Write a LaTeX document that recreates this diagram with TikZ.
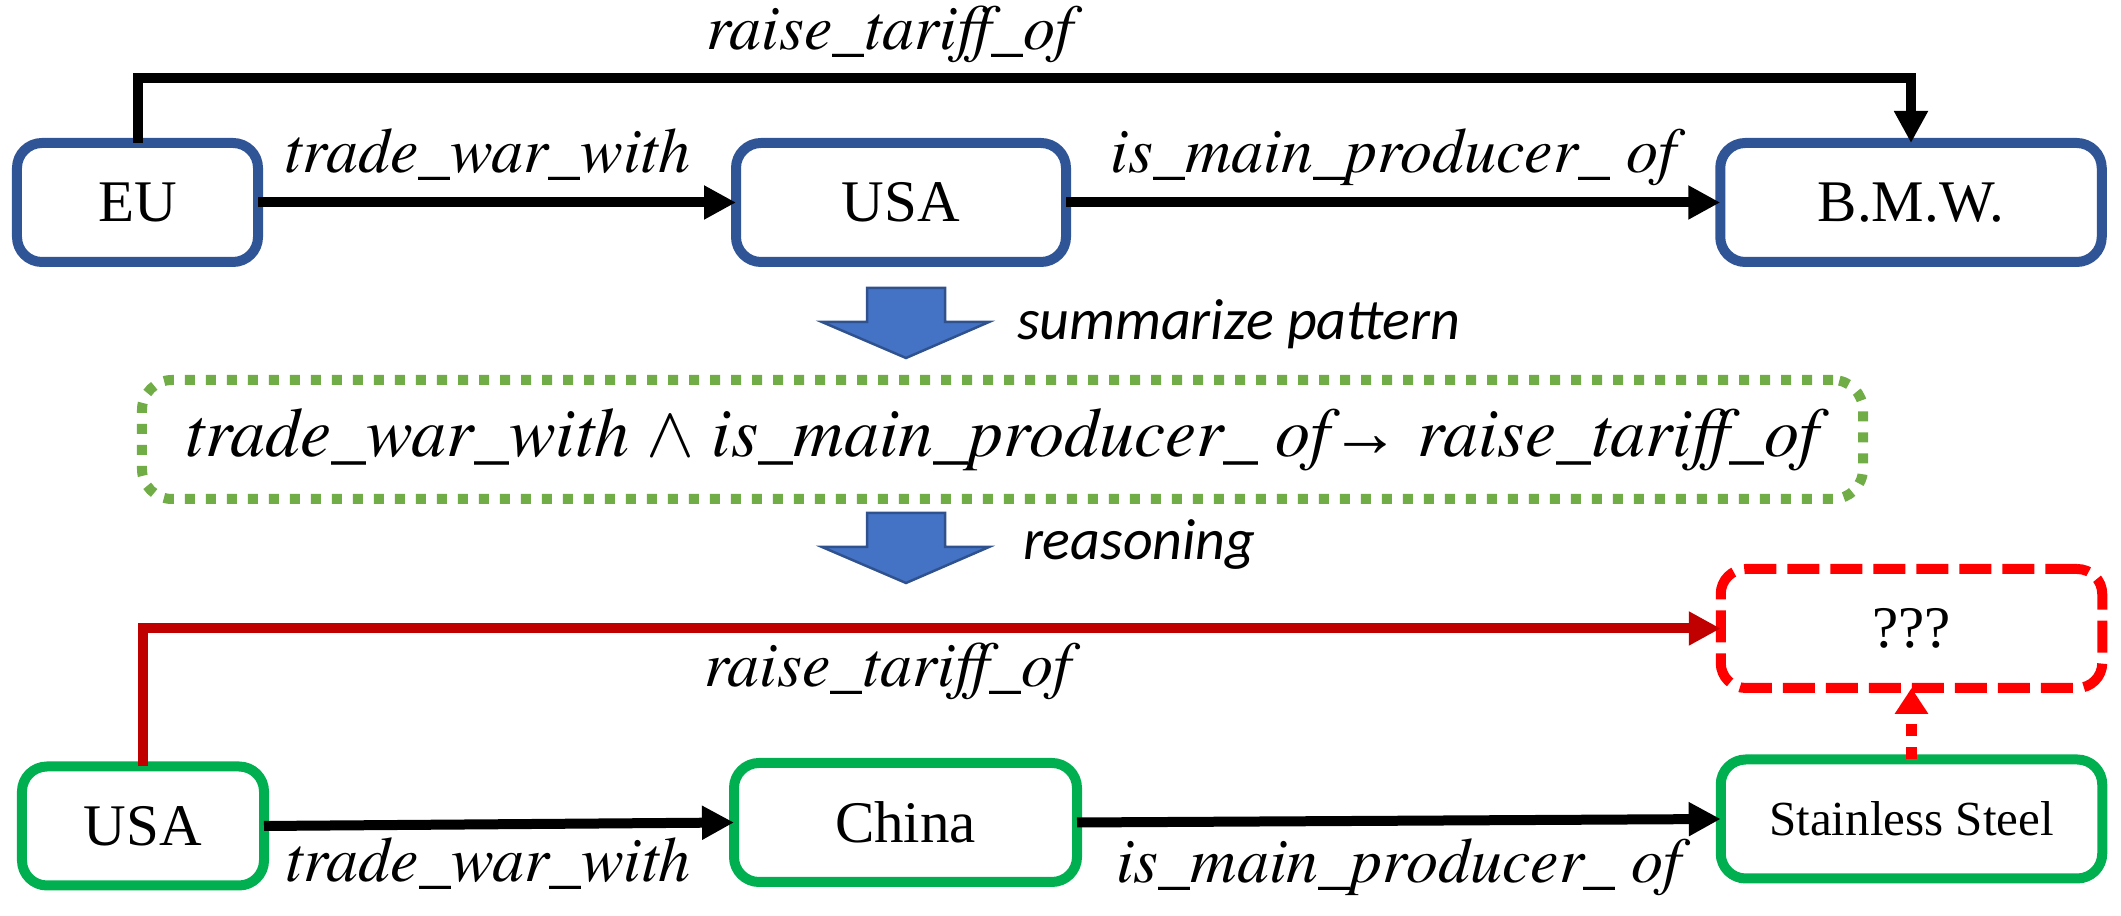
\documentclass[tikz,border=0pt]{standalone}
\usepackage{fontspec}
\setmainfont{Liberation Serif}
\newfontfamily\labelfont{texgyretermes-italic.otf}
\newfontfamily\hintfont{Carlito}
\usetikzlibrary{arrows.meta}

\definecolor{kgblue}{HTML}{2F5597}
\definecolor{kggreen}{HTML}{00B050}
\definecolor{rulegreen}{HTML}{70AD47}
\definecolor{askred}{HTML}{FF0000}
\definecolor{tariffred}{HTML}{C00000}
\definecolor{stepfill}{HTML}{4472C4}
\definecolor{stepedge}{HTML}{2F528F}

\tikzset{
  entity/.style={draw, rounded corners=5pt, line width=2pt, fill=white,
    minimum height=23.8pt, inner sep=0pt, outer sep=0pt,
    font=\fontsize{11.8}{14}\selectfont},
  relation/.style={->, line width=2pt},
  rellabel/.style={anchor=base, inner sep=0pt, font=\labelfont\fontsize{12.8}{15}\selectfont},
  hint/.style={anchor=base west, inner sep=0pt, font=\hintfont\itshape\fontsize{11.6}{14}\selectfont},
  blockarrow/.style={fill=stepfill, draw=stepedge, line width=0.5pt}
}

\begin{document}
\begin{tikzpicture}[x=0.2pt, y=-0.2pt, >={Triangle[length=6.4pt,width=6.4pt]}]
    \useasboundingbox (0,0) rectangle (2121,916);

    % known triples
    \node[entity, draw=kgblue, minimum width=48.2pt] (eu) at (137.5,202.5) {EU};
    \node[entity, draw=kgblue, minimum width=66pt] (usaA) at (901,202.5) {USA};
    \node[entity, draw=kgblue, minimum width=76.3pt] (bmw) at (1911,202.5) {B.M.W.};
    \coordinate (tarifftop) at (1911,78.5);

    \draw[relation] (eu.east) -- (usaA.west)
        node[rellabel, pos=0.48, yshift=6pt] {trade\_war\_with};
    \draw[relation] (usaA.east) -- (bmw.west)
        node[rellabel, midway, yshift=6pt] {is\_main\_producer\_ of};
    \draw[relation] (eu.north) |- (tarifftop)
        node[rellabel, pos=0.712, yshift=5.7pt] {raise\_tariff\_of} -- (bmw.north);

    % steps
    \foreach \y in {288,513}
        \draw[blockarrow] (867,\y) -- (945,\y) -- (945,\y+34) -- (989,\y+34)
            -- (906,\y+70) -- (822,\y+34) -- (867,\y+34) -- cycle;
    \node[hint] (summarize) at (1016,340) {summarize pattern};
    \node[hint] (reasoning) at (1022,560) {reasoning};

    % rule
    \node[entity, draw=rulegreen, dash pattern=on 2pt off 2.2pt, rounded corners=6pt,
        minimum width=344.2pt, font=\labelfont\fontsize{14}{17}\selectfont] (rule) at (1002.5,439.5)
        {trade\_war\_with $\wedge$ is\_main\_producer\_ of{\rmfamily →} raise\_tariff\_of};

    % new case
    \node[entity, draw=kggreen, minimum width=48.4pt] (usaB) at (143,826) {USA};
    \node[entity, draw=kggreen, minimum width=68.6pt] (china) at (905.5,822.5) {China};
    \node[entity, draw=kggreen, minimum width=76.3pt, font=\fontsize{9.8}{12}\selectfont]
        (steel) at (1911.5,819) {Stainless Steel};
    \node[entity, draw=askred, dash pattern=on 6.4pt off 2.2pt, minimum width=76.3pt]
        (unknown) at (1911.5,628.5) {???};

    \draw[relation] (usaB.east) -- (china.west)
        node[rellabel, pos=0.477, yshift=-11.5pt] {trade\_war\_with};
    \draw[relation] (china.east) -- (steel.west)
        node[rellabel, midway, yshift=-12.4pt] {is\_main\_producer\_ of};
    \draw[relation, tariffred] (usaB.north) |- (unknown.west)
        node[rellabel, text=black, pos=0.736, yshift=-11.7pt] {raise\_tariff\_of};
    \draw[askred, line width=2.2pt, dash pattern=on 2.4pt off 2.2pt,
        -{Triangle[length=5.2pt,width=6.4pt]}] (steel.north) -- (unknown.south);
\end{tikzpicture}
\end{document}
